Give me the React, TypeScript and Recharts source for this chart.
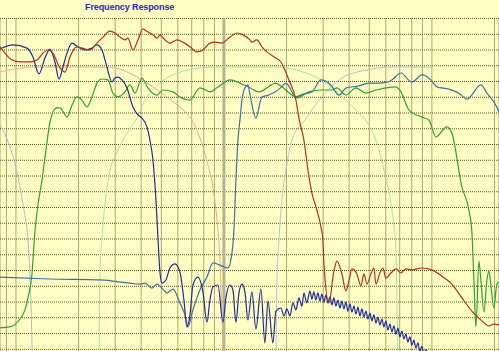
import { LineChart, Line, XAxis, YAxis, CartesianGrid, ReferenceLine } from "recharts";

// grid: log frequency (Hz) and level (dB)
const freqTicks = [90, 100, 200, 300, 400, 500, 600, 700, 800, 900, 1000, 2000, 3000, 4000, 5000, 6000, 7000, 8000, 9000, 10000, 20000];
const dbTicks = [0, 5, 10, 15, 20, 25, 30, 35, 40, 45, 50, 55, 60, 65, 70, 75, 80, 85, 90, 95, 100, 105, 110];

// measured responses [Hz, dB]
const wooferResp: [number, number][] = [
  [83.8, 101], [88.5, 99], [95.7, 96.8], [104.5, 96.2], [116.8, 96.2], [126.2, 96.8], [134.8, 99],
  [142.5, 100], [150.6, 99], [162.8, 94.3], [172, 93], [181.8, 97.8], [196.5, 101], [207.7, 100.6],
  [226.9, 100], [245.2, 102.2], [262, 104.1], [283.1, 106], [299.2, 105.4], [316.2, 104.1],
  [334.2, 103.2], [345.5, 103.8], [365.2, 100], [386, 103.2], [407.9, 106.7], [431.1, 105.7],
  [455.7, 104.8], [476.4, 103.8], [492.4, 104.8], [520.5, 103.2], [550.1, 102.2], [594.3, 103.2],
  [635.3, 102.5], [686.6, 101], [741.6, 99.4], [792.5, 100], [856.4, 102.2], [905, 102.5],
  [978, 102.2], [1069, 104.1], [1155, 105.4], [1234, 104.8], [1333, 103.2], [1363, 102.5],
  [1441, 103.2], [1523, 101], [1609, 99.4], [1739, 97.8], [1879, 96.2], [1943, 94.3], [2054, 90.5],
  [2219, 84.1], [2294, 78.4], [2424, 71.4], [2563, 59.7], [2649, 54.6], [2800, 49.2], [2927, 43.8],
  [2992, 39.7], [3026, 32.1], [3197, 19.7], [3379, 29.8], [3494, 33], [3693, 28.9], [3860, 23.5],
  [3990, 26.7], [4125, 30.5], [4360, 28.9], [4557, 25.1], [4711, 28.9], [4870, 25.7], [5090, 28.9],
  [5263, 30.8], [5381, 25.7], [5623, 29.2], [5813, 30.8], [6010, 27.6], [6353, 29.2], [6713, 30.5],
  [7096, 29.2], [7499, 30.5], [8014, 30.2], [8952, 30.8], [10000, 30.2], [11170, 28.2], [12480, 25.7],
  [13940, 21.3], [15570, 17.1], [17390, 14], [18790, 12.4], [19860, 13], [21020, 12.7],
];

const midResp: [number, number][] = [
  [83.8, 100.3], [96.7, 101.6], [112.9, 100.6], [120.7, 97.8], [129, 92.4], [137.9, 97.5],
  [145.7, 100.3], [154, 96.2], [161, 90.8], [168.3, 94.6], [175.9, 99], [185.9, 102.2], [198.7, 101],
  [214.7, 100], [232, 100.6], [245.2, 101.6], [259.1, 100], [273.8, 94.6], [289.4, 89.8],
  [299.2, 91.1], [309.3, 91.4], [323.3, 90.5], [341.7, 88], [365.2, 81.9], [386, 79.4], [403.4, 78.4],
  [426.4, 75.6], [440.7, 71.4], [455.7, 65.1], [471.1, 52.4], [481.6, 40.3], [492.4, 29.5],
  [503.4, 26], [526.2, 27], [550.1, 30.8], [581.3, 32.1], [614.4, 29.5], [642.2, 20.6], [663.9, 12.1],
  [686.6, 15.9], [709.5, 25.4], [749.9, 27.9], [792.5, 23.2], [828.5, 13.6], [856.4, 20.6],
  [885.3, 24.8], [935.7, 25.4], [989, 13.6], [1022, 21.3], [1069, 25.4], [1105, 23.8], [1142, 13.6],
  [1181, 22.9], [1221, 25.7], [1262, 23.2], [1304, 14.3], [1363, 23.2], [1425, 11.4], [1506, 24.1],
  [1574, 7], [1628, 20.3], [1720, 7], [1778, 17.1], [1879, 18.1], [1943, 15.6], [2008, 17.8],
  [2076, 15.6], [2147, 19.7], [2219, 17.5], [2294, 21.3], [2371, 18.7], [2424, 22.8], [2506, 19.7],
  [2591, 23.5], [2649, 20.9], [2707, 23.2], [2768, 20.6], [2830, 22.9], [2894, 20.3], [2959, 22.5],
  [3025, 20], [3093, 22.2], [3162, 19.7], [3233, 21.6], [3305, 19.1], [3379, 21.3], [3455, 18.7],
  [3533, 20.6], [3612, 18.1], [3693, 20.3], [3775, 17.8], [3860, 20], [3946, 17.1], [4035, 19.4],
  [4125, 16.8], [4217, 18.7], [4312, 16.2], [4409, 18.4], [4507, 15.6], [4608, 17.8], [4711, 15.2],
  [4817, 17.1], [4925, 14.6], [5035, 16.5], [5148, 14], [5263, 15.9], [5381, 13.3], [5501, 15.2],
  [5623, 12.7], [5749, 14.6], [5878, 12.1], [6010, 14], [6144, 11.1], [6282, 13], [6422, 10.5],
  [6566, 12.4], [6713, 9.8], [6863, 11.7], [7017, 8.9], [7174, 10.8], [7334, 8.3], [7499, 9.8],
  [7666, 7.3], [7838, 8.9], [8014, 6.3], [8193, 7.9], [8377, 5.4], [8564, 7], [8756, 4.4], [8952, 6],
  [9152, 3.5], [9358, 4.8], [9781, 1.6], [10500, -5],
];

const tweeterResp: [number, number][] = [
  [83.8, 27.9], [145.7, 27.3], [253.5, 27], [353.2, 26], [394.6, 25.7], [417.1, 26], [450.7, 24.4],
  [476.4, 25.7], [503.4, 24.4], [532, 22.9], [568.6, 24.1], [614.4, 19.7], [649.4, 15.9], [671.4, 12.1],
  [709.5, 17.5], [766.7, 23.8], [828.5, 27.9], [885.3, 32.4], [956.7, 31.7], [1045, 30.8],
  [1093, 35.6], [1117, 42.9], [1142, 58.7], [1168, 71.4], [1194, 77.8], [1221, 84.1], [1262, 88],
  [1304, 88.9], [1333, 86], [1425, 78.4], [1523, 85.1], [1646, 85.7], [1900, 88.3], [1986, 89.5],
  [2219, 85.1], [2398, 86], [2649, 86.7], [2927, 90.5], [3269, 88.9], [3572, 85.7], [3860, 87.9],
  [4458, 88.6], [4979, 89.5], [5562, 89.5], [6076, 89.8], [6422, 90.5], [7096, 92.7], [8014, 89.8],
  [8952, 92.1], [9890, 90.5], [10570, 88.3], [12070, 87.6], [13480, 86.3], [14730, 84.4],
  [17200, 88.9], [18390, 86.3], [20530, 81.9], [21020, 80.3],
];

const lowMidResp: [number, number][] = [
  [83.8, 11.8], [93.6, 12.1], [104.5, 14.6], [110.5, 17.5], [114.2, 21.3], [119.4, 28.9], [123.4, 42.5],
  [127.6, 50.8], [133.4, 58.7], [139.4, 68.3], [145.7, 77.1], [150.6, 80.3], [157.4, 81.6],
  [162.8, 81.6], [170.1, 80], [175.9, 78.7], [185.9, 82.5], [196.5, 85.1], [207.7, 84.1],
  [219.5, 81.9], [232, 85.1], [245.2, 89.5], [259.1, 90.8], [276.9, 90.5], [292.6, 86.3],
  [309.3, 85.1], [334.2, 86.7], [353.2, 88.9], [373.3, 86.3], [403.4, 91.1], [431.1, 87.9],
  [476.4, 85.7], [509, 87.3], [568.6, 86.7], [614.4, 85.1], [686.6, 84.1], [766.7, 88], [856.4, 86.7],
  [925.4, 88], [1069, 90.5], [1194, 89.5], [1333, 88], [1473, 86.7], [1778, 89.5], [1900, 88.3],
  [2123, 85.7], [2243, 84.8], [2563, 86.7], [2959, 87.3], [3305, 87.3], [3494, 88], [3860, 85.7],
  [4312, 88], [4817, 86.3], [5381, 87.3], [6010, 88], [6713, 88.3], [7096, 86.7], [7751, 81],
  [8952, 78.7], [9674, 77.8], [10454, 72.4], [11806, 75.6], [12480, 73.6], [13940, 56.5],
  [15060, 49.2], [15570, 42.2], [15920, 27], [16280, 12.1], [16830, 33], [17200, 27], [17790, 16.8],
  [18390, 27], [18790, 29.8], [19210, 25.4], [19860, 18.1], [20530, 25.7], [21020, 26.4],
];

// target (filter) curves [Hz, dB]
const wooferTarget: [number, number][] = [
  [83.8, 93], [98.9, 94], [120.7, 94.6], [162.8, 94.6], [226.9, 94.6], [299.2, 94.3], [365.2, 92.1],
  [440.7, 88.9], [532, 85.1], [635.3, 81], [701.7, 77.8], [792.5, 69.2], [837.7, 63.5], [885.3, 56.5],
  [915.2, 49.2], [935.7, 42.9], [956.7, 33.3], [972.7, 20.6], [989, 4.4], [994.5, -4.8],
];

const subTarget: [number, number][] = [
  [83.8, 76.2], [88.5, 73.3], [93.6, 69.2], [98.9, 64.1], [104.5, 56.5], [109.3, 49.2], [114.2, 39.7],
  [116.8, 28.6], [118.7, 14.3], [120.1, -1.6],
];

const midTarget: [number, number][] = [
  [250.6, -1.6], [252, 14.3], [253.5, 29.8], [259.1, 40.3], [267.9, 51.1], [283.1, 61.6], [302.5, 66.7],
  [326.9, 71.4], [353.2, 74.9], [381.7, 78.4], [417.1, 84.1], [492.4, 89.5], [550.1, 91.7],
  [614.4, 93], [766.7, 94.3], [925.4, 94.6], [1333, 94.6], [1664, 94.6], [1986, 94.3], [2319, 93.3],
  [2768, 91.4], [3233, 88.6], [3693, 85.1], [4125, 82.2], [4458, 80], [4870, 77.1], [5381, 71.4],
  [5878, 61.9], [6353, 51.4], [6566, 44.4], [6713, 36.5], [6787, 20.6], [6863, 4.4], [6901, -4.8],
];

const tweeterTarget: [number, number][] = [
  [1778, -4.8], [1788, 14.3], [1798, 27], [1839, 39.7], [1900, 52.4], [1986, 61.9], [2123, 71.4],
  [2451, 77.8], [2959, 85.1], [3693, 91.1], [4817, 93.6], [6422, 94.6], [10000, 94.6],
];

const toPoints = (pts: [number, number][]) => pts.map(([f, db]) => ({ f, db }));

const series = [
  { name: "sub target", data: subTarget, color: "#b4b4d4", width: 1 },
  { name: "woofer target", data: wooferTarget, color: "#eaa88a", width: 1 },
  { name: "mid target", data: midTarget, color: "#a8e2a0", width: 1 },
  { name: "tweeter target", data: tweeterTarget, color: "#aac8d4", width: 1 },
  { name: "low-mid", data: lowMidResp, color: "#2ea42e", width: 1.2 },
  { name: "tweeter", data: tweeterResp, color: "#3a72a6", width: 1.2 },
  { name: "mid", data: midResp, color: "#1e2c9e", width: 1.2 },
  { name: "woofer", data: wooferResp, color: "#b4301c", width: 1.2 },
];

const hiddenTick = { fill: "none", fontSize: 1 };

export default function App() {
  return (
    <div
      style={{
        position: "relative",
        width: 499,
        height: 351,
        overflow: "hidden",
        background: "#ffffc4",
      }}
    >
      <style>{"body{margin:0}"}</style>
      <div
        style={{
          position: "absolute",
          left: 85,
          top: 2,
          fontFamily: "'Liberation Sans', Arial, sans-serif",
          fontWeight: "bold",
          fontSize: 9,
          letterSpacing: -0.1,
          color: "#2228c8",
          zIndex: 2,
        }}
      >
        Frequency Response
      </div>
      <LineChart width={499} height={365} margin={{ top: 18.5, right: 0, bottom: 0, left: 0 }}>
        <CartesianGrid stroke="#56522f" strokeDasharray="1 1" strokeWidth={1} />
        <XAxis
          dataKey="f"
          type="number"
          scale="log"
          domain={[83.8, 21020]}
          ticks={freqTicks}
          interval={0}
          allowDataOverflow
          height={0}
          tick={hiddenTick}
          tickLine={false}
          axisLine={false}
        />
        <YAxis
          type="number"
          domain={[0, 110]}
          ticks={dbTicks}
          interval={0}
          allowDataOverflow
          width={0}
          tick={hiddenTick}
          tickLine={false}
          axisLine={false}
        />
        <ReferenceLine x={1000} stroke="#b6b298" strokeWidth={3} />
        {series.map((s) => (
          <Line
            key={s.name}
            data={toPoints(s.data)}
            dataKey="db"
            type="monotone"
            stroke={s.color}
            strokeWidth={s.width}
            dot={false}
            activeDot={false}
            isAnimationActive={false}
          />
        ))}
      </LineChart>
    </div>
  );
}
